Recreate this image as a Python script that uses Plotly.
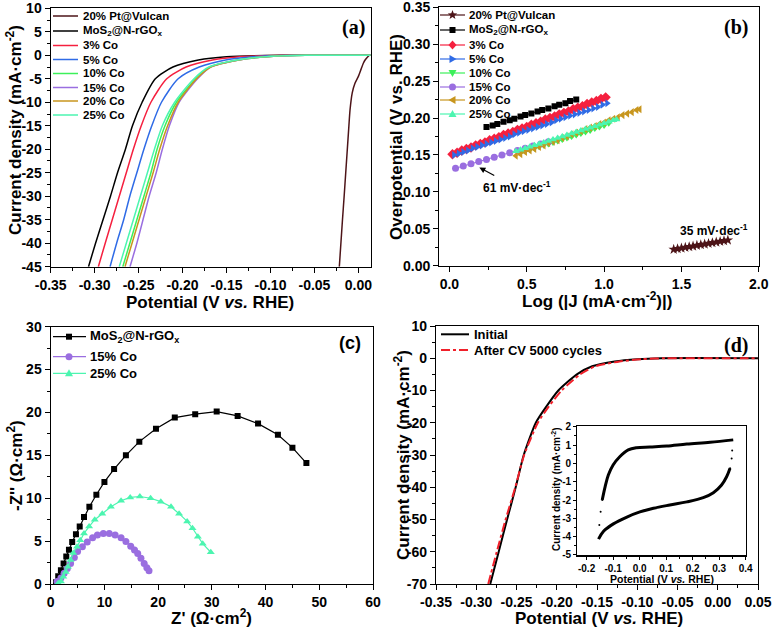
import math
import plotly.graph_objects as go

W, H = 772, 628
FONT = "Liberation Sans, Arial, sans-serif"
SERIF = "Liberation Serif, Times New Roman, serif"

# ---------------- Series names & colours ----------------
names = ["20% Pt@Vulcan", "MoS<sub>2</sub>@N-rGO<sub>x</sub>", "3% Co", "5% Co",
         "10% Co", "15% Co", "20% Co", "25% Co"]
colors = ["#4d1418", "#000000", "#f5203f", "#2f6be6", "#3cf05a", "#9a6ee0", "#c8961e", "#4cf5b0"]

# ---------------- Panel (a): LSV ----------------
pt_j = [-45, -40, -35, -30, -25, -20, -15, -11.6, -8, -6, -4.5, -3, -1.7, -0.9, -0.4, 0]
pt_v = [-0.0217, -0.0199, -0.0181, -0.0162, -0.0144, -0.0126, -0.0108, -0.0095, -0.0070,
        -0.0040, 0.0000, 0.0030, 0.0056, 0.0080, 0.0102, 0.0125]
lsv_j = [-45, -40, -35, -30, -25, -20, -15, -10, -5, -2.5, -1, -0.3, 0, 0]
mos2_v = [-0.307, -0.299, -0.2905, -0.282, -0.274, -0.265, -0.257, -0.246, -0.231, -0.211, -0.182, -0.150, -0.090, 0.014]
co3_v = [-0.2958, -0.288, -0.280, -0.272, -0.264, -0.256, -0.247, -0.236, -0.218, -0.196, -0.166, -0.135, -0.080, 0.014]
co5_v = [-0.2825, -0.275, -0.267, -0.260, -0.252, -0.244, -0.235, -0.224, -0.205, -0.181, -0.151, -0.120, -0.070, 0.014]
co10_v = [-0.268, -0.260, -0.252, -0.244, -0.236, -0.229, -0.220, -0.207, -0.185, -0.169, -0.137, -0.105, -0.060, 0.014]
co15_v = [-0.2598, -0.252, -0.245, -0.238, -0.230, -0.223, -0.215, -0.204, -0.183, -0.168, -0.136, -0.104, -0.060, 0.014]
co20_v = [-0.2655, -0.2575, -0.2495, -0.2415, -0.2335, -0.226, -0.217, -0.205, -0.184, -0.168, -0.136, -0.104, -0.060, 0.014]
co25_v = [-0.272, -0.264, -0.256, -0.248, -0.240, -0.232, -0.223, -0.209, -0.187, -0.170, -0.138, -0.106, -0.060, 0.014]

# ---------------- Panel (b): Tafel ----------------
tb_pt_x = [1.45, 1.475, 1.50, 1.525, 1.55, 1.575, 1.60, 1.625, 1.65, 1.675, 1.70, 1.725, 1.75, 1.775, 1.80]
tb_pt_y = [0.0220, 0.0229, 0.0238, 0.0247, 0.0256, 0.0265, 0.0274, 0.0283, 0.0292, 0.0301, 0.0310, 0.0319, 0.0328, 0.0337, 0.0346]
tb_mos2_x = [0.24, 0.28, 0.31, 0.35, 0.39, 0.42, 0.46, 0.49, 0.53, 0.57, 0.60, 0.64, 0.68, 0.71, 0.75, 0.78, 0.82]
tb_mos2_y = [0.188, 0.190, 0.192, 0.195, 0.197, 0.199, 0.202, 0.204, 0.206, 0.209, 0.211, 0.213, 0.216, 0.218, 0.220, 0.223, 0.225]
tb_co3_x = [0.02, 0.05, 0.08, 0.11, 0.14, 0.17, 0.20, 0.23, 0.26, 0.29, 0.32, 0.35, 0.38, 0.41, 0.44, 0.47, 0.50,
            0.53, 0.56, 0.59, 0.62, 0.65, 0.68, 0.71, 0.74, 0.77, 0.80, 0.83, 0.86, 0.89, 0.92, 0.95, 0.98, 1.01]
tb_co3_y = [0.151, 0.153, 0.156, 0.158, 0.160, 0.163, 0.165, 0.167, 0.170, 0.172, 0.174, 0.177, 0.179, 0.181, 0.184, 0.186, 0.188,
            0.191, 0.193, 0.195, 0.198, 0.200, 0.202, 0.205, 0.207, 0.209, 0.212, 0.214, 0.216, 0.219, 0.221, 0.223, 0.226, 0.228]
tb_co5_x = [0.03, 0.06, 0.09, 0.12, 0.15, 0.18, 0.21, 0.24, 0.27, 0.30, 0.33, 0.36, 0.39, 0.42, 0.45, 0.48, 0.51,
            0.54, 0.57, 0.60, 0.63, 0.66, 0.69, 0.72, 0.75, 0.78, 0.81, 0.84, 0.87, 0.90, 0.93, 0.96, 0.99, 1.02]
tb_co5_y = [0.150, 0.152, 0.154, 0.156, 0.159, 0.161, 0.163, 0.165, 0.167, 0.169, 0.171, 0.173, 0.175, 0.178, 0.180, 0.182, 0.184,
            0.186, 0.188, 0.190, 0.192, 0.194, 0.197, 0.199, 0.201, 0.203, 0.205, 0.207, 0.209, 0.211, 0.213, 0.215, 0.218, 0.220]
tb_co10_x = [0.46, 0.49, 0.52, 0.55, 0.58, 0.61, 0.64, 0.67, 0.70, 0.73, 0.76, 0.79, 0.82, 0.85, 0.88, 0.91, 0.94, 0.97, 1.00, 1.03]
tb_co10_y = [0.153, 0.155, 0.157, 0.159, 0.161, 0.163, 0.165, 0.167, 0.169, 0.171, 0.173, 0.175, 0.177, 0.179, 0.181, 0.183, 0.186, 0.188, 0.190, 0.193]
tb_co15_x = [0.04, 0.09, 0.14, 0.19, 0.24, 0.29, 0.34, 0.39, 0.44, 0.49, 0.54, 0.59, 0.64]
tb_co15_y = [0.132, 0.135, 0.138, 0.141, 0.144, 0.147, 0.150, 0.153, 0.156, 0.159, 0.162, 0.165, 0.168]
tb_co20_x = [0.43, 0.46, 0.49, 0.52, 0.55, 0.58, 0.61, 0.64, 0.67, 0.70, 0.73, 0.76, 0.79, 0.82, 0.85, 0.88, 0.91, 0.94,
             0.97, 1.00, 1.03, 1.06, 1.09, 1.12, 1.15, 1.18, 1.21, 1.23]
tb_co20_y = [0.149, 0.151, 0.154, 0.156, 0.158, 0.161, 0.163, 0.166, 0.168, 0.170, 0.173, 0.175, 0.178, 0.180, 0.182, 0.185, 0.187, 0.189,
             0.192, 0.194, 0.197, 0.199, 0.201, 0.204, 0.206, 0.208, 0.211, 0.212]
tb_co25_x = [0.43, 0.46, 0.49, 0.52, 0.55, 0.58, 0.61, 0.64, 0.67, 0.70, 0.73, 0.76, 0.79, 0.82, 0.85, 0.88, 0.91, 0.94, 0.97, 1.00, 1.03, 1.06, 1.08]
tb_co25_y = [0.155, 0.157, 0.159, 0.161, 0.163, 0.165, 0.167, 0.169, 0.171, 0.173, 0.175, 0.177, 0.179, 0.181, 0.183, 0.185, 0.187, 0.189, 0.191, 0.193, 0.195, 0.197, 0.198]

# ---------------- Panel (c): Nyquist ----------------
c_names = ["MoS<sub>2</sub>@N-rGO<sub>x</sub>", "15% Co", "25% Co"]
c_colors = ["#000000", "#9a6ee0", "#4cf5b0"]
nyq_mos2_re = [1.0, 1.4, 1.9, 2.4, 2.9, 3.4, 4.0, 4.7, 5.4, 6.2, 7.2, 8.5, 10.0, 11.8, 14.0, 16.5, 19.6, 23.1, 26.9,
               30.9, 34.8, 38.6, 42.3, 45.0, 47.6]
nyq_mos2_im = [0.2, 0.9, 1.6, 2.4, 3.2, 4.0, 4.9, 5.8, 6.7, 7.8, 9.0, 10.4, 11.9, 13.4, 15.0, 16.6, 18.1, 19.4, 19.8,
               20.1, 19.6, 18.7, 17.4, 15.9, 14.1]
nyq_co15_re = [1.2, 1.9, 2.5, 3.1, 3.7, 4.4, 5.0, 5.9, 6.8, 7.8, 8.7, 9.8, 10.9, 12.0, 13.1, 14.0, 14.9, 15.6, 16.2,
               16.8, 17.4, 17.9, 18.3]
nyq_co15_im = [0.3, 0.7, 1.25, 1.8, 2.4, 3.1, 3.8, 4.35, 4.9, 5.4, 5.7, 5.9, 5.9, 5.7, 5.4, 4.95, 4.4, 3.95, 3.55,
               3.0, 2.4, 1.9, 1.55]
nyq_co25_re = [1.4, 1.9, 2.35, 2.8, 3.2, 3.7, 4.2, 4.9, 5.5, 6.2, 7.15, 8.2, 9.6, 11.2, 13.1, 14.8, 16.6, 18.6, 20.5,
               22.4, 23.9, 25.4, 26.4, 27.4, 28.3, 29.8]
nyq_co25_im = [0.1, 0.3, 0.85, 1.4, 2.0, 2.8, 3.6, 4.35, 5.1, 5.9, 6.7, 7.5, 8.2, 9.0, 9.7, 10.1, 10.2, 10.0, 9.6,
               9.0, 8.2, 7.3, 6.5, 5.5, 4.7, 3.7]

# ---------------- Panel (d): stability ----------------
d_names = ["Initial", "After CV 5000 cycles"]
d_j = [-70, -60, -50, -40, -30, -20, -15, -10, -5, -2.5, -1, -0.3, 0, 0]
init_v = [-0.2826, -0.2721, -0.2617, -0.2510, -0.2410, -0.2260, -0.2130, -0.1980, -0.1750, -0.1560, -0.1280, -0.1000, -0.0700, 0.05]
after_v = [-0.2851, -0.2745, -0.2635, -0.2515, -0.2405, -0.2235, -0.2100, -0.1940, -0.1710, -0.1520, -0.1220, -0.0950, -0.0650, 0.05]
cv_up_x = [-0.152, -0.147, -0.141, -0.130, -0.118, -0.100, -0.075, -0.043, -0.012, 0.039, 0.102, 0.178, 0.266, 0.353]
cv_up_j = [-3.36, -2.64, -2.00, -1.27, -0.64, -0.09, 0.36, 0.73, 0.85, 0.89, 0.94, 1.05, 1.15, 1.28]
cv_dn_x = [0.349, 0.347, 0.341, 0.328, 0.309, 0.278, 0.240, 0.178, 0.114, 0.052, 0.001, -0.048, -0.099, -0.136, -0.155]
cv_dn_j = [0.70, 0.27, -0.27, -0.73, -1.18, -1.60, -1.87, -2.10, -2.27, -2.45, -2.65, -2.93, -3.30, -3.70, -4.13]

# ---------------- Tick labels ----------------
a_xt = [-0.35, -0.30, -0.25, -0.20, -0.15, -0.10, -0.05, 0.00]
a_xl = ["-0.35", "-0.30", "-0.25", "-0.20", "-0.15", "-0.10", "-0.05", "0.00"]
a_yt = [10, 5, 0, -5, -10, -15, -20, -25, -30, -35, -40, -45]
a_yl = ["10", "5", "0", "-5", "-10", "-15", "-20", "-25", "-30", "-35", "-40", "-45"]
b_xt = [0.0, 0.5, 1.0, 1.5, 2.0]
b_xl = ["0.0", "0.5", "1.0", "1.5", "2.0"]
b_yt = [0.00, 0.05, 0.10, 0.15, 0.20, 0.25, 0.30, 0.35]
b_yl = ["0.00", "0.05", "0.10", "0.15", "0.20", "0.25", "0.30", "0.35"]
c_xt = [0, 10, 20, 30, 40, 50, 60]
c_xl = ["0", "10", "20", "30", "40", "50", "60"]
c_yt = [0, 5, 10, 15, 20, 25, 30]
c_yl = ["0", "5", "10", "15", "20", "25", "30"]
d_xt = [-0.35, -0.30, -0.25, -0.20, -0.15, -0.10, -0.05, 0.00, 0.05]
d_xl = ["-0.35", "-0.30", "-0.25", "-0.20", "-0.15", "-0.10", "-0.05", "0.00", "0.05"]
d_yt = [10, 0, -10, -20, -30, -40, -50, -60, -70]
d_yl = ["10", "0", "-10", "-20", "-30", "-40", "-50", "-60", "-70"]
i_xt = [-0.2, -0.1, 0.0, 0.1, 0.2, 0.3, 0.4]
i_xl = ["-0.2", "-0.1", "0.0", "0.1", "0.2", "0.3", "0.4"]
i_yt = [2, 1, 0, -1, -2, -3, -4, -4.995]
i_yl = ["2", "1", "0", "-1", "-2", "-3", "-4", "-5"]


def mids(v):
    s = sorted(v)
    return [(s[i] + s[i + 1]) / 2 for i in range(len(s) - 1)]


def px_x(p):
    return p / W


def px_y(p):
    return 1 - p / H


def axis(dom, rng, tv, tl, anchor, fs=14, tl_len=5, m_len=3, minor_vals=None):
    return dict(domain=dom, range=rng, anchor=anchor, tickmode="array", tickvals=tv, ticktext=tl,
                ticks="outside", ticklen=tl_len, tickwidth=1, tickcolor="black",
                minor=dict(tickmode="array", tickvals=minor_vals if minor_vals is not None else mids(tv),
                           ticks="outside", ticklen=m_len, tickwidth=1, tickcolor="black", showgrid=False),
                showline=True, linecolor="black", linewidth=1.2, mirror=True,
                showgrid=False, zeroline=False, automargin=False, ticklabeloverflow="allow",
                tickfont=dict(family=FONT, size=fs, color="black", weight="bold"))


fig = go.Figure()

# Panel a traces
fig.add_trace(go.Scatter(x=pt_v, y=pt_j, mode="lines", line=dict(color=colors[0], width=1.5, shape="spline", smoothing=0.6),
                         xaxis="x", yaxis="y", showlegend=False))
for v, c in zip([mos2_v, co3_v, co5_v, co10_v, co15_v, co20_v, co25_v], colors[1:]):
    fig.add_trace(go.Scatter(x=v, y=lsv_j, mode="lines", line=dict(color=c, width=1.5, shape="spline", smoothing=0.7),
                             xaxis="x", yaxis="y", showlegend=False))

# Panel b traces
b_series = [(tb_pt_x, tb_pt_y, "star", 8), (tb_mos2_x, tb_mos2_y, "square", 6),
            (tb_co3_x, tb_co3_y, "diamond", 8), (tb_co5_x, tb_co5_y, "triangle-right", 7),
            (tb_co10_x, tb_co10_y, "triangle-down", 7), (tb_co15_x, tb_co15_y, "circle", 7),
            (tb_co20_x, tb_co20_y, "triangle-left", 7), (tb_co25_x, tb_co25_y, "triangle-up", 7)]
for (bx, by, sym, sz), c in zip(b_series, colors):
    fig.add_trace(go.Scatter(x=bx, y=by, mode="lines+markers", line=dict(color=c, width=1),
                             marker=dict(symbol=sym, size=sz, color=c),
                             xaxis="x2", yaxis="y2", showlegend=False))

# Panel c traces
c_series = [(nyq_mos2_re, nyq_mos2_im, "square", 6), (nyq_co15_re, nyq_co15_im, "circle", 7),
            (nyq_co25_re, nyq_co25_im, "triangle-up", 7)]
for (cx, cy, sym, sz), c in zip(c_series, c_colors):
    fig.add_trace(go.Scatter(x=cx, y=cy, mode="lines+markers", line=dict(color=c, width=1.2),
                             marker=dict(symbol=sym, size=sz, color=c),
                             xaxis="x3", yaxis="y3", showlegend=False))

# Panel d traces
fig.add_trace(go.Scatter(x=init_v, y=d_j, mode="lines", line=dict(color="black", width=2, shape="spline", smoothing=0.6),
                         xaxis="x4", yaxis="y4", showlegend=False))
fig.add_trace(go.Scatter(x=after_v, y=d_j, mode="lines", line=dict(color="#f0202a", width=2, dash="dashdot", shape="spline", smoothing=0.6),
                         xaxis="x4", yaxis="y4", showlegend=False))
# inset CV
fig.add_trace(go.Scatter(x=cv_up_x[:3], y=cv_up_j[:3], mode="markers", marker=dict(color="black", size=2),
                         xaxis="x5", yaxis="y5", showlegend=False))
fig.add_trace(go.Scatter(x=cv_up_x[2:], y=cv_up_j[2:], mode="lines", line=dict(color="black", width=3, shape="spline"),
                         xaxis="x5", yaxis="y5", showlegend=False))
fig.add_trace(go.Scatter(x=cv_dn_x[:3], y=cv_dn_j[:3], mode="markers", marker=dict(color="black", size=2),
                         xaxis="x5", yaxis="y5", showlegend=False))
fig.add_trace(go.Scatter(x=cv_dn_x[2:], y=cv_dn_j[2:], mode="lines", line=dict(color="black", width=3, shape="spline"),
                         xaxis="x5", yaxis="y5", showlegend=False))

layout = dict(width=W, height=H, margin=dict(l=0, r=0, t=0, b=0, pad=0), paper_bgcolor="white", plot_bgcolor="white",
              showlegend=False, autosize=False)
layout["xaxis"] = axis([px_x(50.7), px_x(370.7)], [-0.35, 0.014], a_xt, a_xl, "y")
layout["yaxis"] = axis([px_y(266.7), px_y(8.3)], [-45, 10], a_yt, a_yl, "x")
layout["xaxis2"] = axis([px_x(439.3), px_x(758.8)], [-0.065, 2.0], b_xt, b_xl, "y2")
layout["yaxis2"] = axis([px_y(265.7), px_y(7.3)], [0, 0.35], b_yt, b_yl, "x2")
layout["xaxis3"] = axis([px_x(50.7), px_x(373)], [0, 60], c_xt, c_xl, "y3")
layout["yaxis3"] = axis([px_y(584), px_y(326.7)], [0, 30], c_yt, c_yl, "x3")
layout["xaxis4"] = axis([px_x(436), px_x(758)], [-0.35, 0.05], d_xt, d_xl, "y4")
layout["yaxis4"] = axis([px_y(584), px_y(326)], [-70, 10], d_yt, d_yl, "x4")
layout["xaxis5"] = axis([px_x(577.3), px_x(745.7)], [-0.235, 0.4], i_xt, i_xl, "y5", fs=10, tl_len=3, m_len=2,
                        minor_vals=[-0.15, -0.05, 0.05, 0.15, 0.25, 0.35])
layout["yaxis5"] = axis([px_y(555.4), px_y(426.3)], [-5.02, 2.02], i_yt, i_yl, "x5", fs=10, tl_len=3, m_len=2,
                        minor_vals=[-4.5, -3.5, -2.5, -1.5, -0.5, 0.5, 1.5])

anns = []
shapes = []


def text(t, px, py, size, angle=0, xa="center", ya="middle", family=FONT, color="black"):
    anns.append(dict(text=t, x=px_x(px), y=px_y(py), xref="paper", yref="paper", showarrow=False,
                     xanchor=xa, yanchor=ya, textangle=angle,
                     font=dict(family=family, size=size, color=color, weight="bold")))


# Axis titles
text("Potential (V <i>vs.</i> RHE)", 210, 302, 17)
text("Current density (mA·cm<sup>-2</sup>)", 14, 130, 17, angle=-90)
text("Log (|J (mA·cm<sup>-2</sup>)|)", 597, 300, 17)
text("Overpotential (V vs. RHE)", 396, 137, 17, angle=-90)
text("Z' (Ω·cm<sup>2</sup>)", 211, 617, 17)
text("-Z'' (Ω·cm<sup>2</sup>)", 15, 466, 17, angle=-90)
text("Potential (V <i>vs.</i> RHE)", 599, 618.5, 17)
text("Current density (mA·cm<sup>-2</sup>)", 402, 455, 17, angle=-90)
text("Potential (V <i>vs.</i> RHE)", 662, 579, 10.5)
text("Current density (mA·cm<sup>-2</sup>)", 556, 490, 10, angle=-90)

# Panel labels
text("(a)", 353, 27, 20, family=SERIF)
text("(b)", 736, 27, 20, family=SERIF)
text("(c)", 350, 343, 18)
text("(d)", 736, 345, 20, family=SERIF)

# Tafel slope labels + arrow
anns.append(dict(text="<b>61 mV·dec<sup>-1</sup></b>", x=0.44, y=0.107, xref="x2", yref="y2", showarrow=False,
                 font=dict(family=FONT, size=12, color="black")))
anns.append(dict(text="<b>35 mV·dec<sup>-1</sup></b>", x=1.71, y=0.049, xref="x2", yref="y2", showarrow=False,
                 font=dict(family=FONT, size=12, color="black")))
anns.append(dict(text="", x=0.194, y=0.133, xref="x2", yref="y2", ax=0.30, ay=0.121, axref="x2", ayref="y2",
                 showarrow=True, arrowhead=2, arrowsize=1, arrowwidth=1.2, arrowcolor="black"))


# Legend marker glyphs as small pixel-sized shapes (y offsets positive = up)
def star_path(ro, ri):
    pts = []
    for k in range(10):
        r = ro if k % 2 == 0 else ri
        a = math.pi / 2 + k * math.pi / 5
        pts.append((r * math.cos(a), r * math.sin(a)))
    return "M" + " L".join(f"{x:.2f},{y:.2f}" for x, y in pts) + " Z"


SYMBOL_PATHS = {
    "star": star_path(5, 2.1),
    "diamond": "M0,4.5 L4,0 L0,-4.5 L-4,0 Z",
    "triangle-up": "M-4,-3 L4,-3 L0,4 Z",
    "triangle-down": "M-4,3 L4,3 L0,-4 Z",
    "triangle-right": "M-3,4 L-3,-4 L4,0 Z",
    "triangle-left": "M3,4 L3,-4 L-4,0 Z",
}


def legend_marker(sym, cx, cy, color):
    base = dict(xref="paper", yref="paper", xsizemode="pixel", ysizemode="pixel",
                xanchor=px_x(cx), yanchor=px_y(cy), fillcolor=color, line=dict(width=0), layer="above")
    if sym == "square":
        base.update(type="rect", x0=-3, x1=3, y0=-3, y1=3)
    elif sym == "circle":
        base.update(type="circle", x0=-3.5, x1=3.5, y0=-3.5, y1=3.5)
    else:
        base.update(type="path", path=SYMBOL_PATHS[sym])
    shapes.append(base)


# Legends
rows_a = [16, 31, 45.5, 59.5, 73.5, 87.5, 101, 115]
for nm, c, r in zip(names, colors, rows_a):
    shapes.append(dict(type="line", xref="paper", yref="paper", x0=px_x(53), x1=px_x(78), y0=px_y(r), y1=px_y(r),
                       line=dict(color=c, width=1.5)))
    text(nm, 81, r, 11.5, xa="left")

syms_b = ["star", "square", "diamond", "triangle-right", "triangle-down", "circle", "triangle-left", "triangle-up"]
rows_b = [15, 30, 45, 59, 73, 87, 100, 114]
for nm, c, s, r in zip(names, colors, syms_b, rows_b):
    shapes.append(dict(type="line", xref="paper", yref="paper", x0=px_x(440), x1=px_x(465), y0=px_y(r), y1=px_y(r),
                       line=dict(color=c, width=1.2)))
    legend_marker(s, 452.5, r, c)
    text(nm, 467, r, 11.5, xa="left")

syms_c = ["square", "circle", "triangle-up"]
rows_c = [336.7, 356.7, 373.3]
for nm, c, s, r in zip(c_names, c_colors, syms_c, rows_c):
    shapes.append(dict(type="line", xref="paper", yref="paper", x0=px_x(53), x1=px_x(86), y0=px_y(r), y1=px_y(r),
                       line=dict(color=c, width=1.2)))
    legend_marker(s, 69, r, c)
    text(nm, 88, r, 13, xa="left")

rows_d = [334.3, 350]
d_styles = [("black", "solid"), ("#f0202a", "dashdot")]
for nm, (c, ds), r in zip(d_names, d_styles, rows_d):
    shapes.append(dict(type="line", xref="paper", yref="paper", x0=px_x(441), x1=px_x(469), y0=px_y(r), y1=px_y(r),
                       line=dict(color=c, width=2, dash=ds)))
    text(nm, 472, r, 13, xa="left")

layout["annotations"] = anns
layout["shapes"] = shapes
fig.update_layout(**layout)
fig.write_html("out.html", config={"displayModeBar": False, "staticPlot": True},
               post_script="document.body.style.margin='0';document.body.style.padding='0';")
